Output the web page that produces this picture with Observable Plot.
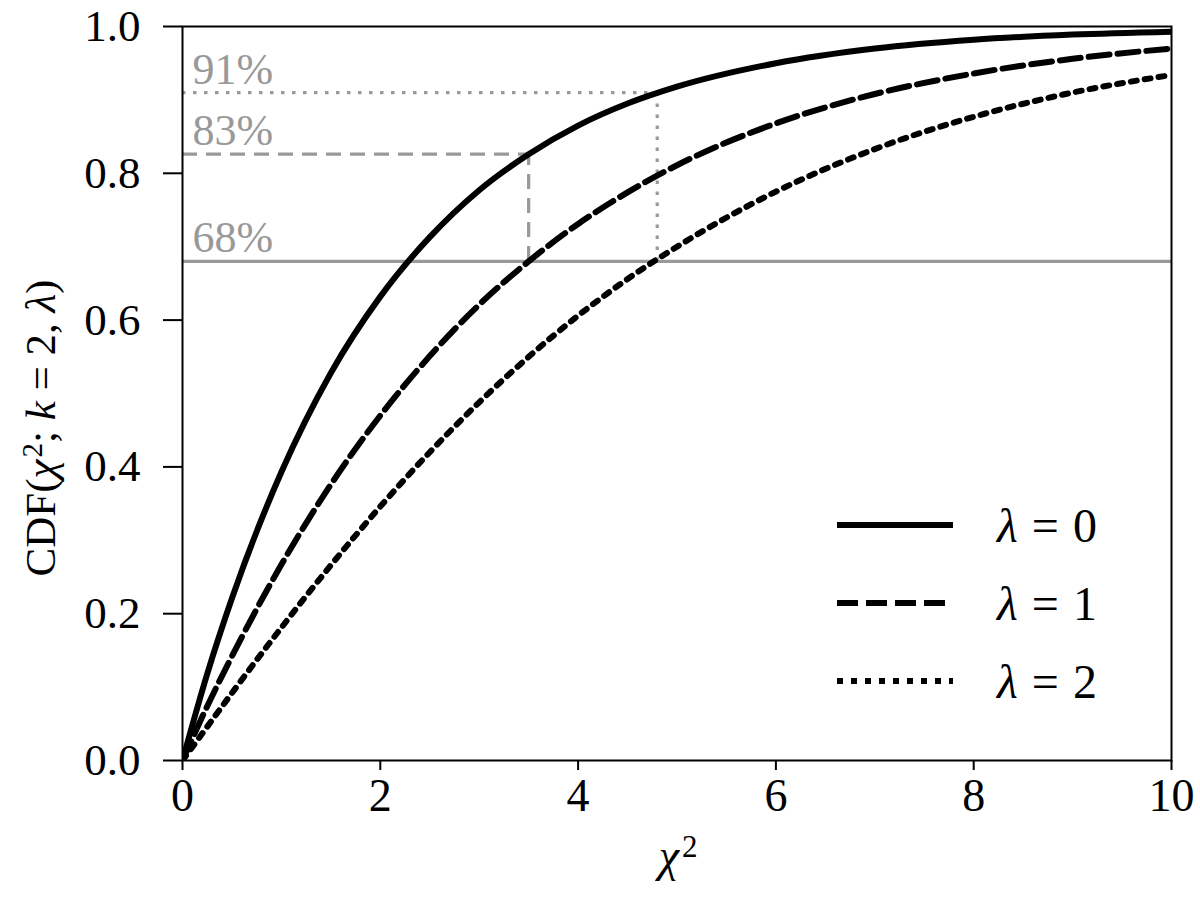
<!DOCTYPE html>
<html>
<head>
<meta charset="utf-8">
<script src="https://cdn.jsdelivr.net/npm/d3@7"></script>
<script src="https://cdn.jsdelivr.net/npm/@observablehq/plot@0.6"></script>
<style>
  html, body { margin: 0; padding: 0; background: white; }
  #chart svg { display: block; }
</style>
</head>
<body>
<div id="chart"></div>
<script>
// chi-square values (x axis)
const chi2 = [0, 0.25, 0.5, 1, 1.5, 2, 2.5, 3, 3.5, 4, 4.5, 5, 6, 7, 8, 9, 10];
// CDF values
const cdfLambda0 = [0, 0.118, 0.221, 0.393, 0.528, 0.632, 0.713, 0.777, 0.826, 0.865, 0.895, 0.918, 0.950, 0.970, 0.982, 0.989, 0.993];
const cdfLambda1 = [0, 0.074, 0.142, 0.267, 0.376, 0.470, 0.551, 0.621, 0.680, 0.731, 0.774, 0.811, 0.868, 0.908, 0.936, 0.956, 0.970];
const cdfLambda2 = [0, 0.046, 0.092, 0.181, 0.266, 0.346, 0.420, 0.488, 0.550, 0.606, 0.656, 0.700, 0.775, 0.833, 0.877, 0.910, 0.934];
const lambdas = ["0", "1", "2"];

// reference levels
const levelValues = [0.68, 0.826, 0.91];
const levelLabels = ["68%", "83%", "91%"];
const levelXEnd = [10, 3.5, 4.8];

const xTicks = [0, 2, 4, 6, 8, 10];
const yTicks = [0, 0.2, 0.4, 0.6, 0.8, 1.0];

const series = [cdfLambda0, cdfLambda1, cdfLambda2];
const dashes = [null, "21,8", "6,8"];
const grayDashes = [null, "15,9", "3.5,7.5"];
const gray = "#999999";

const curveData = series.map(ys => chi2.map((x, i) => ({x, y: ys[i]})));
const levels = levelValues.map((v, i) => ({y: v, label: levelLabels[i], xEnd: levelXEnd[i]}));

const marks = [];
// reference lines
levels.forEach((d, i) => {
  marks.push(Plot.ruleY([d], {y: "y", x1: 0, x2: "xEnd", stroke: gray, strokeWidth: 3.2, strokeDasharray: grayDashes[i]}));
  if (i > 0) {
    marks.push(Plot.ruleX([d], {x: "xEnd", y1: levelValues[0], y2: "y", stroke: gray, strokeWidth: 3.2, strokeDasharray: grayDashes[i]}));
  }
});
marks.push(Plot.text(levels, {x: 0, y: "y", text: "label", textAnchor: "start", lineAnchor: "bottom", dx: 10, dy: -9, fill: gray, fontSize: 44}));

// curves
curveData.forEach((data, i) => {
  marks.push(Plot.line(data, {x: "x", y: "y", stroke: "black", strokeWidth: 6, strokeDasharray: dashes[i], curve: "monotone-x", clip: true}));
});

marks.push(Plot.frame({stroke: "black", strokeWidth: 2}));
marks.push(Plot.axisX({ticks: xTicks, tickSize: 10, tickPadding: 8, strokeWidth: 2, fontSize: 46, label: null}));
marks.push(Plot.axisY({ticks: yTicks, tickSize: 19, tickPadding: 23, strokeWidth: 2, fontSize: 45, tickFormat: d3.format(".1f"), label: null}));

const chart = Plot.plot({
  width: 1200,
  height: 905,
  marginLeft: 182,
  marginRight: 29,
  marginTop: 26,
  marginBottom: 145,
  x: {domain: [0, 10]},
  y: {domain: [0, 1]},
  style: {fontFamily: "'Liberation Serif', 'DejaVu Serif', serif", fontSize: "44px", background: "white", color: "black"},
  marks
});
document.getElementById("chart").appendChild(chart);

// axis labels and legend
const svg = d3.select(chart);
const font = "'Liberation Serif', 'DejaVu Serif', serif";

// x label
const xl = svg.append("text")
  .attr("x", 678).attr("y", 871)
  .attr("text-anchor", "middle")
  .attr("font-family", font).attr("font-size", 46).attr("fill", "black");
xl.append("tspan").attr("font-style", "italic").text("χ");
xl.append("tspan").attr("font-size", 31).attr("dy", -14).attr("dx", 3).text("2");

// y label
const yl = svg.append("text")
  .attr("transform", "translate(55,428) rotate(-90)")
  .attr("text-anchor", "middle")
  .attr("font-family", font).attr("font-size", 43).attr("fill", "black");
yl.append("tspan").text("CDF(");
yl.append("tspan").attr("font-style", "italic").text("χ");
yl.append("tspan").attr("font-size", 29).attr("dy", -13).attr("dx", 2).text("2");
yl.append("tspan").attr("dy", 13).text("; ");
yl.append("tspan").attr("font-style", "italic").text("k");
yl.append("tspan").text(" = 2, ");
yl.append("tspan").attr("font-style", "italic").text("λ");
yl.append("tspan").text(")");

// legend
const lg = svg.append("g").attr("text-anchor", "start");
const legendY = [525, 603, 681];
lambdas.forEach((lam, i) => {
  lg.append("line")
    .attr("x1", 837).attr("x2", 953)
    .attr("y1", legendY[i]).attr("y2", legendY[i])
    .attr("stroke", "black").attr("stroke-width", 6)
    .attr("stroke-dasharray", dashes[i]);
  const t = lg.append("text")
    .attr("x", 997).attr("y", legendY[i] + 17)
    .attr("text-anchor", "start")
    .attr("font-family", font).attr("font-size", 48).attr("fill", "black");
  t.append("tspan").attr("font-style", "italic").text("λ");
  t.append("tspan").attr("dx", 14).text("=");
  t.append("tspan").attr("dx", 14).text(lam);
});
</script>
</body>
</html>
